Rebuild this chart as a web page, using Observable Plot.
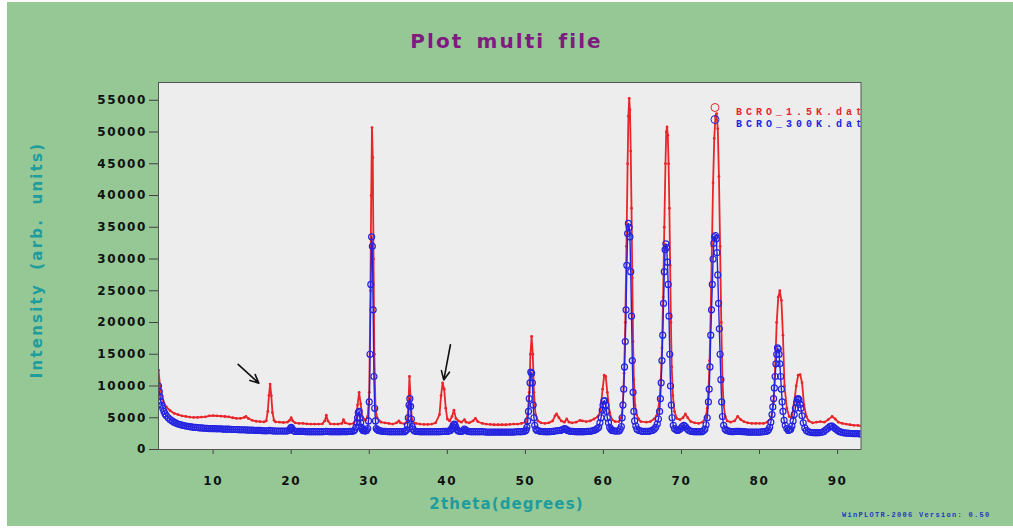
<!DOCTYPE html>
<html>
<head>
<meta charset="utf-8">
<script src="https://cdn.jsdelivr.net/npm/d3@7"></script>
<script src="https://cdn.jsdelivr.net/npm/@observablehq/plot@0.6"></script>
<style>
  html, body { margin: 0; padding: 0; background: #ffffff; }
  #page { position: relative; width: 1013px; height: 529px; overflow: hidden; }
  #bg { position: absolute; left: 7px; top: 2px; width: 1006px; height: 524px; background: #96c896; }
  #chart { position: absolute; left: 0; top: 0; }
  .lbl { position: absolute; white-space: nowrap; font-family: "DejaVu Sans", sans-serif; font-weight: bold; }
  #title { left: 0; width: 1013px; top: 29px; text-align: center; font-size: 20px; letter-spacing: 2.1px; word-spacing: 4px; color: #7e1a80; }
  #xtitle { left: 0; width: 1013px; top: 495px; text-align: center; font-size: 15px; letter-spacing: 1.1px; color: #1f9c9c; }
  #ytitle { left: 37px; top: 260px; transform: translate(-50%, -50%) rotate(-90deg); font-size: 15px; letter-spacing: 2.2px; word-spacing: 6px; color: #1f9c9c; }
  #footer { left: 842px; top: 511px; font-family: "Liberation Mono", monospace; font-size: 7px; letter-spacing: 1.3px; color: #2038c0; }
  g[aria-label="y-axis tick label"], g[aria-label="x-axis tick label"] { font-family: "DejaVu Sans", sans-serif; font-weight: bold; font-size: 12px; letter-spacing: 1.6px; fill: #111; }
  g[aria-label="y-axis tick"], g[aria-label="x-axis tick"] { stroke: #444; }
  .legend text { font-family: "Liberation Mono", monospace; font-weight: bold; font-size: 10px; letter-spacing: 4px; }
</style>
</head>
<body>
<div id="page">
  <div id="bg"></div>
  <div id="chart"></div>
  <div class="lbl" id="title">Plot multi file</div>
  <div class="lbl" id="ytitle">Intensity (arb. units)</div>
  <div class="lbl" id="xtitle">2theta(degrees)</div>
  <div class="lbl" id="footer">WinPLOTR-2006 Version: 0.50</div>
</div>
<script>
// ---- Data ----
const seriesNames = ["BCRO_1.5K.dat", "BCRO_300K.dat"];
const xTicks = [10, 20, 30, 40, 50, 60, 70, 80, 90];
const yTicks = [0, 5000, 10000, 15000, 20000, 25000, 30000, 35000, 40000, 45000, 50000, 55000];

// [2theta, intensity] for BCRO_1.5K.dat (red)
const bcro15K = [
  [3.0,12500],[3.2,10000],[3.4,8500],[3.7,7300],[4.0,6700],[4.5,6100],[5.0,5700],[5.5,5500],[6.0,5300],
  [6.5,5200],[7.0,5100],[7.5,5050],[8.0,5050],[8.5,5100],[9.0,5150],[9.5,5300],[10.0,5350],[10.5,5300],
  [11.0,5250],[11.5,5200],[12.0,5150],[12.5,5000],[13.0,4900],[13.5,4900],[14.0,5050],[14.2,5200],[14.5,4900],
  [15.0,4600],[15.5,4450],[16.0,4400],[16.5,4350],[16.8,4500],[17.0,6000],[17.15,8500],[17.3,10300],[17.45,8500],
  [17.6,5800],[17.8,4600],[18.0,4350],[18.5,4300],[19.0,4250],[19.5,4300],[19.8,4600],[20.0,5000],[20.2,4500],
  [20.5,4200],[21.0,4100],[21.5,4100],[22.0,4050],[22.5,4000],[23.0,4000],[23.5,4000],[24.0,4050],[24.3,4500],
  [24.5,5400],[24.7,4500],[25.0,4050],[25.5,4000],[26.0,4000],[26.5,4100],[26.7,4700],[26.9,4200],[27.5,4000],
  [28.0,4100],[28.3,4600],[28.5,7000],[28.7,9000],[28.9,7200],[29.1,5200],[29.3,4800],[29.5,4600],[29.8,5200],
  [30.0,9000],[30.15,25000],[30.25,40000],[30.35,50700],[30.45,46000],[30.55,30000],[30.65,15000],[30.8,6500],
  [31.0,5000],[31.3,4500],[31.5,4300],[32.0,4200],[32.5,4100],[33.0,4000],[33.5,4200],[33.8,4500],[34.0,4200],
  [34.5,4050],[34.8,4300],[35.0,6500],[35.15,11500],[35.3,8000],[35.45,4800],[35.7,4200],[36.0,4100],[36.5,4000],
  [37.0,3950],[37.5,3950],[38.0,4000],[38.5,4200],[39.0,5500],[39.2,8500],[39.4,10500],[39.6,9500],[39.8,6500],
  [40.0,4800],[40.3,4500],[40.6,5200],[40.85,6200],[41.1,4900],[41.4,4500],[41.8,4300],[42.2,4700],[42.4,4300],
  [42.8,4200],[43.3,4500],[43.6,4900],[43.9,4400],[44.5,4100],[45.0,4000],[45.5,3950],[46.0,3900],[46.5,3900],
  [47.0,3900],[47.5,3900],[48.0,3950],[48.5,4000],[49.0,4000],[49.5,4100],[50.0,4300],[50.3,5500],[50.5,9000],
  [50.65,15000],[50.8,17800],[50.95,15000],[51.1,9000],[51.3,5500],[51.6,4500],[52.0,4200],[52.5,4100],[53.0,4200],
  [53.5,4500],[53.8,5300],[54.0,5600],[54.3,5000],[54.6,4500],[55.0,4300],[55.3,4800],[55.6,4300],[56.0,4200],
  [56.5,4300],[57.0,4600],[57.3,4500],[57.8,4400],[58.3,4500],[58.8,4800],[59.3,5200],[59.6,6000],[59.9,9500],
  [60.1,11700],[60.3,11500],[60.5,9000],[60.8,5800],[61.1,4700],[61.5,4400],[62.0,4400],[62.3,5000],[62.5,7500],
  [62.65,12000],[62.8,20000],[62.95,32000],[63.1,45000],[63.2,52500],[63.3,55300],[63.4,53500],[63.5,47000],
  [63.6,38000],[63.7,27000],[63.8,17000],[63.9,11000],[64.05,7000],[64.25,5500],[64.5,4800],[64.8,4400],
  [65.5,4300],[66.0,4400],[66.5,4800],[66.8,5300],[67.0,6200],[67.2,8000],[67.35,11000],[67.5,16000],
  [67.65,24000],[67.8,35000],[67.95,45000],[68.05,50000],[68.15,50800],[68.25,49500],[68.35,45000],[68.45,38000],
  [68.55,29000],[68.65,20000],[68.75,13000],[68.9,8500],[69.1,6000],[69.4,4900],[69.8,4700],[70.2,5000],
  [70.5,5600],[70.8,5000],[71.2,4400],[71.7,4200],[72.2,4100],[72.7,4300],[73.1,5000],[73.3,6500],[73.45,9000],
  [73.6,14000],[73.75,22000],[73.9,32000],[74.05,42000],[74.2,49000],[74.35,52500],[74.5,52900],[74.65,50500],
  [74.8,43000],[74.95,32000],[75.1,20000],[75.25,11000],[75.4,7000],[75.6,5200],[75.85,4500],[76.3,4300],
  [76.8,4500],[77.2,5200],[77.6,4700],[78.0,4400],[78.5,4200],[79.0,4100],[79.5,4100],[80.0,4100],[80.5,4100],
  [81.0,4300],[81.5,5000],[81.8,7500],[82.0,13000],[82.2,20000],[82.4,24000],[82.6,25000],[82.8,23500],
  [83.0,18000],[83.2,10000],[83.5,6500],[83.8,5200],[84.1,5000],[84.4,7000],[84.7,10000],[84.95,11700],
  [85.2,11800],[85.45,10500],[85.7,7000],[86.0,5200],[86.3,4500],[86.8,4200],[87.3,4300],[87.8,4400],
  [88.3,4300],[88.8,4700],[89.3,5200],[89.7,4800],[90.1,4300],[90.6,4100],[91.1,4000],[91.6,3900],[92.1,3800],
  [92.6,3800],[93.0,3700]
];

// [2theta, intensity] for BCRO_300K.dat (blue)
const bcro300K = [
  [3.0,10000],[3.1,9100],[3.2,8300],[3.3,7600],[3.4,7000],[3.55,6500],[3.7,6000],[3.85,5600],[4.0,5300],
  [4.25,5000],[4.5,4700],[4.75,4500],[5.0,4300],[5.25,4150],[5.5,4000],[5.75,3920],[6.0,3850],[6.25,3780],
  [6.5,3700],[6.75,3650],[7.0,3600],[7.25,3550],[7.5,3500],[7.75,3480],[8.0,3450],[8.25,3420],[8.5,3400],
  [8.75,3380],[9.0,3350],[9.25,3320],[9.5,3300],[9.75,3300],[10.0,3300],[10.25,3280],[10.5,3250],[10.75,3250],
  [11.0,3250],[11.25,3220],[11.5,3200],[11.75,3200],[12.0,3200],[12.25,3170],[12.5,3150],[12.75,3150],
  [13.0,3150],[13.25,3120],[13.5,3100],[13.75,3100],[14.0,3100],[14.25,3080],[14.5,3050],[14.75,3050],
  [15.0,3050],[15.25,3020],[15.5,3000],[15.75,3000],[16.0,3000],[16.25,2970],[16.5,2950],[16.75,2950],
  [17.0,2950],[17.25,3000],[17.5,2950],[17.75,2920],[18.0,2900],[18.25,2900],[18.5,2900],[18.75,2900],
  [19.0,2900],[19.25,2900],[19.5,2900],[19.75,3050],[19.9,3300],[20.0,3500],[20.1,3300],[20.25,3000],
  [20.5,2850],[20.75,2850],[21.0,2850],[21.25,2850],[21.5,2850],[21.75,2820],[22.0,2800],[22.25,2800],
  [22.5,2800],[22.75,2800],[23.0,2800],[23.25,2800],[23.5,2800],[23.75,2800],[24.0,2800],[24.25,2820],
  [24.5,2850],[24.75,2820],[25.0,2800],[25.25,2800],[25.5,2800],[25.75,2800],[26.0,2800],[26.25,2800],
  [26.5,2800],[26.75,2820],[27.0,2800],[27.25,2820],[27.5,2850],[27.75,2870],[28.0,2900],[28.15,3100],
  [28.3,3500],[28.4,4200],[28.5,5000],[28.6,5800],[28.7,6000],[28.8,5000],[28.9,4200],[29.0,3500],[29.1,3200],
  [29.2,3000],[29.35,2950],[29.5,2900],[29.65,3000],[29.8,3300],[29.9,4500],[30.0,7500],[30.1,15000],
  [30.2,26000],[30.3,33500],[30.4,32000],[30.5,22000],[30.6,11500],[30.7,6500],[30.8,4500],[30.9,3300],
  [31.05,3100],[31.2,3000],[31.35,2950],[31.5,2900],[31.75,2870],[32.0,2850],[32.25,2820],[32.5,2800],
  [32.75,2800],[33.0,2800],[33.25,2800],[33.5,2800],[33.75,2800],[34.0,2800],[34.25,2800],[34.5,2800],
  [34.65,2900],[34.8,3100],[34.9,3800],[35.0,5000],[35.1,7000],[35.2,8000],[35.3,6800],[35.4,4800],[35.5,3600],
  [35.6,3200],[35.75,2950],[36.0,2850],[36.25,2820],[36.5,2800],[36.75,2800],[37.0,2800],[37.25,2800],
  [37.5,2800],[37.75,2800],[38.0,2800],[38.25,2800],[38.5,2800],[38.75,2800],[39.0,2800],[39.25,2820],
  [39.5,2850],[39.75,2850],[40.0,2850],[40.2,2900],[40.4,3000],[40.55,3300],[40.7,3600],[40.8,3900],[40.9,4000],
  [41.0,3800],[41.1,3500],[41.25,3100],[41.4,2900],[41.6,2870],[41.8,2850],[42.0,2950],[42.2,3200],[42.35,3050],
  [42.5,2900],[42.75,2850],[43.0,2800],[43.25,2800],[43.5,2800],[43.75,2800],[44.0,2800],[44.25,2800],
  [44.5,2800],[44.75,2780],[45.0,2750],[45.25,2750],[45.5,2750],[45.75,2750],[46.0,2750],[46.25,2750],
  [46.5,2750],[46.75,2750],[47.0,2750],[47.25,2750],[47.5,2750],[47.75,2750],[48.0,2750],[48.25,2750],
  [48.5,2750],[48.75,2780],[49.0,2800],[49.25,2800],[49.5,2800],[49.75,2850],[50.0,2900],[50.1,3100],
  [50.2,3500],[50.3,4500],[50.4,6000],[50.5,8000],[50.6,10500],[50.7,12200],[50.8,12000],[50.9,10500],
  [51.0,7000],[51.1,5000],[51.2,3800],[51.35,3200],[51.5,3000],[51.75,2900],[52.0,2850],[52.25,2820],
  [52.5,2800],[52.75,2800],[53.0,2800],[53.25,2820],[53.5,2850],[53.75,2900],[54.0,2950],[54.25,2980],
  [54.5,3000],[54.75,3150],[55.0,3300],[55.2,3200],[55.4,3000],[55.6,2900],[55.8,2870],[56.0,2850],
  [56.25,2820],[56.5,2800],[56.75,2800],[57.0,2800],[57.25,2800],[57.5,2800],[57.75,2820],[58.0,2850],
  [58.25,2870],[58.5,2900],[58.75,3000],[59.0,3100],[59.2,3300],[59.4,3500],[59.55,4200],[59.7,5000],
  [59.85,6200],[59.95,7000],[60.05,7600],[60.15,7700],[60.3,7000],[60.4,6000],[60.5,5000],[60.65,4200],
  [60.8,3500],[60.95,3200],[61.1,3000],[61.3,2950],[61.5,2900],[61.75,2900],[62.0,2900],[62.15,3200],
  [62.3,3600],[62.4,5000],[62.5,7000],[62.6,9500],[62.7,13000],[62.8,17000],[62.9,22000],[63.0,29000],
  [63.1,34000],[63.2,35600],[63.3,35000],[63.4,33500],[63.5,28000],[63.6,21000],[63.7,14000],[63.8,9000],
  [63.9,6000],[64.0,4500],[64.15,3700],[64.3,3200],[64.55,3000],[64.8,2900],[65.0,2870],[65.25,2850],
  [65.5,2850],[65.75,2870],[66.0,2900],[66.25,3000],[66.5,3200],[66.7,3500],[66.9,4000],[67.05,4800],
  [67.2,6000],[67.3,8000],[67.4,10500],[67.5,14000],[67.6,18000],[67.7,23000],[67.8,28000],[67.9,31500],
  [68.0,32400],[68.1,31800],[68.2,29500],[68.3,26000],[68.4,21000],[68.5,15000],[68.6,10000],[68.7,7000],
  [68.8,5000],[68.95,3800],[69.1,3300],[69.3,3100],[69.5,3000],[69.7,3100],[69.9,3300],[70.1,3600],
  [70.3,3800],[70.5,3600],[70.7,3300],[70.9,3050],[71.1,2900],[71.35,2850],[71.6,2800],[71.85,2800],
  [72.1,2800],[72.35,2800],[72.6,2800],[72.8,2950],[73.0,3200],[73.15,3900],[73.3,5000],[73.45,7500],
  [73.55,9500],[73.65,13000],[73.75,18000],[73.85,22000],[73.95,26000],[74.05,30000],[74.15,32500],
  [74.25,33500],[74.35,33700],[74.45,33200],[74.55,31000],[74.65,27500],[74.75,23000],[74.85,19000],
  [74.95,15000],[75.05,11000],[75.15,7500],[75.25,5200],[75.4,3800],[75.6,3200],[75.8,3000],[76.0,2900],
  [76.25,2850],[76.5,2800],[76.75,2820],[77.0,2850],[77.25,2870],[77.5,2850],[77.75,2820],[78.0,2800],
  [78.25,2780],[78.5,2750],[78.75,2750],[79.0,2750],[79.25,2750],[79.5,2750],[79.75,2750],[80.0,2750],
  [80.25,2770],[80.5,2800],[80.75,2850],[81.0,2900],[81.15,3100],[81.3,3500],[81.45,4300],[81.6,5500],
  [81.7,6700],[81.8,8000],[81.9,9700],[82.0,11500],[82.1,13500],[82.2,15000],[82.3,16000],[82.4,15800],
  [82.5,15000],[82.6,13500],[82.7,11500],[82.8,9500],[82.9,7500],[83.0,6000],[83.15,4600],[83.3,3800],
  [83.5,3300],[83.7,3000],[83.85,3100],[84.0,3200],[84.15,3700],[84.3,4500],[84.45,5500],[84.6,6500],
  [84.75,7400],[84.85,7900],[84.95,8000],[85.05,7800],[85.2,7100],[85.3,6500],[85.45,5300],[85.6,4200],
  [85.8,3400],[86.0,3000],[86.25,2800],[86.5,2700],[86.75,2670],[87.0,2650],[87.25,2650],[87.5,2650],
  [87.75,2670],[88.0,2700],[88.25,2850],[88.5,3100],[88.75,3350],[89.0,3600],[89.15,3680],[89.3,3700],
  [89.5,3500],[89.7,3300],[89.9,3100],[90.1,2900],[90.3,2800],[90.5,2700],[90.75,2650],[91.0,2600],
  [91.25,2570],[91.5,2550],[91.75,2520],[92.0,2500],[92.25,2500],[92.5,2500],[92.75,2470],[93.0,2450]
];

// annotation arrows [x1, y1, x2, y2] in data units
const arrowList = [
  [13.2, 13400, 15.85, 10450],
  [40.4, 16500, 39.55, 10950]
];

const red = "#e8262a";
const blue = "#2424e0";

const redData = bcro15K.map(([x, y]) => ({x, y}));
const blueData = bcro300K.map(([x, y]) => ({x, y}));
const arrows = arrowList.map(([x1, y1, x2, y2]) => ({x1, y1, x2, y2}));

const chart = Plot.plot({
  width: 1013,
  height: 529,
  marginLeft: 158,
  marginRight: 152.5,
  marginTop: 82,
  marginBottom: 80,
  style: {background: "transparent", overflow: "visible"},
  x: {domain: [3, 93]},
  y: {domain: [0, 57800]},
  marks: [
    Plot.frame({fill: "#ededed", stroke: null}),
    Plot.axisY({ticks: yTicks, tickSize: 9, tickPadding: 2.5, tickFormat: d3.format("d"), label: null}),
    Plot.axisX({ticks: xTicks, tickSize: 5, tickPadding: 22, tickFormat: d3.format("d"), label: null}),
    Plot.line(redData, {x: "x", y: "y", stroke: red, strokeWidth: 1.8, clip: true}),
    Plot.dot(redData, {x: "x", y: "y", r: 1.4, fill: red, stroke: null, clip: true}),
    Plot.line(blueData, {x: "x", y: "y", stroke: blue, strokeWidth: 1.4, clip: true}),
    Plot.dot(blueData, {x: "x", y: "y", r: 3, stroke: blue, fill: "none", strokeWidth: 1.2, clip: true}),
    Plot.frame({stroke: "#555", strokeWidth: 1}),
    Plot.arrow(arrows, {x1: "x1", y1: "y1", x2: "x2", y2: "y2", stroke: "#111", strokeWidth: 1.6, headLength: 9, headAngle: 50}),
    Plot.dot([seriesNames[0]], {frameAnchor: "top-right", dx: -146, dy: 25, r: 4, stroke: red, fill: "none", strokeWidth: 1}),
    Plot.dot([seriesNames[1]], {frameAnchor: "top-right", dx: -146, dy: 37, r: 4, stroke: blue, fill: "none", strokeWidth: 1}),
    Plot.text([seriesNames[0]], {text: d => d, frameAnchor: "top-right", textAnchor: "start", dx: -125, dy: 25, fill: red, clip: true, className: "legend"}),
    Plot.text([seriesNames[1]], {text: d => d, frameAnchor: "top-right", textAnchor: "start", dx: -125, dy: 37, fill: blue, clip: true, className: "legend"})
  ]
});
document.getElementById("chart").appendChild(chart);
</script>
</body>
</html>
